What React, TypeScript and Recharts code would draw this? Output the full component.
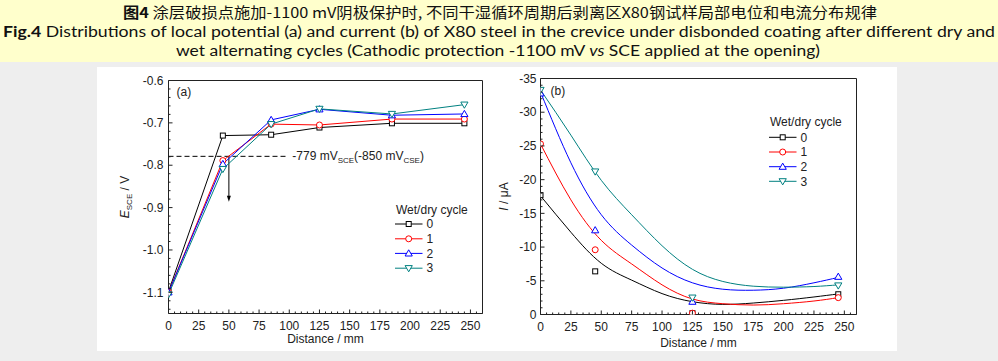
import React from 'react';
import {
  ComposedChart, Line, Scatter, XAxis, YAxis, ReferenceArea, ReferenceLine, ReferenceDot, Legend,
} from 'recharts';

const FONT = '"Liberation Sans", Arial, Helvetica, sans-serif';
const TXT = '#222';
const AXIS = '#222';

// ---------- shared series meta ----------
const cycleNames = ['0', '1', '2', '3'];
const cycleColors = ['#000000', '#ff0000', '#0000ff', '#008080'];
const cycleShapes = ['square', 'circle', 'up', 'down'];

// ---------- panel (a): local potential ----------
const distanceA = [0, 45, 85, 125, 185, 245];
const potentialCycle0 = [-1.098, -0.730, -0.728, -0.711, -0.701, -0.701];
const potentialCycle1 = [-1.100, -0.789, -0.703, -0.705, -0.691, -0.691];
const potentialCycle2 = [-1.100, -0.797, -0.693, -0.668, -0.682, -0.679];
const potentialCycle3 = [-1.105, -0.809, -0.703, -0.667, -0.679, -0.657];
const protectionLevel = -0.779;
const arrowX = 50;
const arrowEnd = -0.886;

// ---------- panel (b): local current ----------
const distanceFit = [0, 25, 50, 75, 100, 125, 150, 175, 200, 225, 245];
const currentFit0 = [-17.6, -12.2, -7.6, -5.1, -3.1, -1.9, -1.5, -1.7, -2.1, -2.6, -3.05];
const currentFit1 = [-25.3, -17.0, -11.0, -7.5, -4.4, -2.3, -1.6, -1.4, -1.6, -2.0, -2.5];
const currentFit2 = [-33.0, -22.5, -14.8, -10.3, -6.9, -4.7, -3.75, -3.6, -3.9, -4.7, -5.5];
const currentFit3 = [-33.3, -26.6, -19.9, -14.8, -10.2, -6.7, -4.9, -4.2, -4.05, -4.15, -4.4];
const distanceMeasured = [0, 45, 125, 245];
const currentMeasured0 = [-17.7, -6.4, -0.2, -3.0];
const currentMeasured1 = [-25.3, -9.6, -0.2, -2.5];
const currentMeasured2 = [-32.8, -12.5, -1.9, -5.6];
const currentMeasured3 = [-33.3, -21.2, -2.5, -4.3];
const fitSeries = [currentFit0, currentFit1, currentFit2, currentFit3];
const measuredSeries = [currentMeasured0, currentMeasured1, currentMeasured2, currentMeasured3];

// ---------- ticks ----------
const xDomain: [number, number] = [0, 260];
const xTicks = Array.from({ length: 53 }, (_, i) => i * 5);
const yDomainA: [number, number] = [-1.15, -0.6];
const yTicksA = Array.from({ length: 28 }, (_, i) => Math.round((-1.14 + i * 0.02) * 100) / 100);
const yDomainB: [number, number] = [-35, 0];
const yTicksB = Array.from({ length: 36 }, (_, i) => -35 + i);

const dataA = distanceA.map((d, i) => ({
  d, c0: potentialCycle0[i], c1: potentialCycle1[i], c2: potentialCycle2[i], c3: potentialCycle3[i],
}));
const fitData = fitSeries.map((s) => distanceFit.map((d, i) => ({ d, v: s[i] })));
const measuredData = measuredSeries.map((s) => distanceMeasured.map((d, i) => ({ d, v: s[i] })));

function marker(shape: string, cx: number, cy: number, color: string, key?: any) {
  const common = { fill: '#fff', stroke: color, strokeWidth: 1 };
  switch (shape) {
    case 'square':
      return <rect key={key} x={cx - 2.5} y={cy - 2.5} width={5} height={5} {...common} />;
    case 'circle':
      return <circle key={key} cx={cx} cy={cy} r={3} {...common} />;
    case 'up':
      return <path key={key} d={`M${cx},${cy - 3.6}L${cx + 3.6},${cy + 2.6}L${cx - 3.6},${cy + 2.6}Z`} {...common} />;
    default:
      return <path key={key} d={`M${cx},${cy + 3.6}L${cx + 3.6},${cy - 2.6}L${cx - 3.6},${cy - 2.6}Z`} {...common} />;
  }
}

const makeXTick = (labelDy: number) => (props: any) => {
  const { x, y, payload } = props;
  const v = payload.value;
  const major = v % 25 === 0;
  return (
    <g>
      <line x1={x} x2={x} y1={y} y2={y - (major ? 4 : 2)} stroke={AXIS} strokeWidth={1} />
      {major && v <= 250 && (
        <text x={x} y={y + labelDy} textAnchor="middle" fontSize={12} fontFamily={FONT} fill={TXT}>{v}</text>
      )}
    </g>
  );
};

const makeYTick = (isMajor: (v: number) => boolean, fmt: (v: number) => string, gap: number) => (props: any) => {
  const { x, y, payload } = props;
  const v = payload.value;
  const major = isMajor(v);
  return (
    <g>
      <line x1={x} x2={x + (major ? 4 : 2)} y1={y} y2={y} stroke={AXIS} strokeWidth={1} />
      {major && (
        <text x={x - gap} y={y + 4.2} textAnchor="end" fontSize={12} fontFamily={FONT} fill={TXT}>{fmt(v)}</text>
      )}
    </g>
  );
};

const LegendBox = ({ rows }: { rows: number[] }) => (
  <svg width={100} height={80} style={{ display: 'block', overflow: 'visible' }}>
    <text x={1} y={rows[0] + 4.2} fontSize={12} fontFamily={FONT} fill={TXT}>Wet/dry cycle</text>
    {cycleNames.map((n, i) => (
      <g key={n}>
        <line x1={0} x2={27.5} y1={rows[i + 1]} y2={rows[i + 1]} stroke={cycleColors[i]} strokeWidth={1} />
        {marker(cycleShapes[i], 13.7, rows[i + 1], cycleColors[i])}
        <text x={31.5} y={rows[i + 1] + 4.2} fontSize={12} fontFamily={FONT} fill={TXT}>{n}</text>
      </g>
    ))}
  </svg>
);

const YLabelA = (props: any) => {
  const vb = props.viewBox;
  const cx = vb.x + vb.width - 43.5;
  const cy = vb.y + vb.height / 2;
  return (
    <text transform={`translate(${cx},${cy}) rotate(-90)`} textAnchor="middle" y={4.2} fontSize={12} fontFamily={FONT} fill={TXT}>
      <tspan fontStyle="italic">E</tspan>
      <tspan fontSize={8} dy={3}>SCE</tspan>
      <tspan dy={-3}> / V</tspan>
    </text>
  );
};

const YLabelB = (props: any) => {
  const vb = props.viewBox;
  const cx = vb.x + vb.width - 37;
  const cy = vb.y + vb.height / 2;
  return (
    <text transform={`translate(${cx},${cy}) rotate(-90)`} textAnchor="middle" y={4.2} fontSize={12} fontFamily={FONT} fill={TXT}>
      <tspan fontStyle="italic">I</tspan>
      <tspan> / μA</tspan>
    </text>
  );
};

const makeXLabel = (dy: number) => (props: any) => {
  const vb = props.viewBox;
  return (
    <text x={vb.x + vb.width / 2} y={vb.y + dy} textAnchor="middle" fontSize={12} fontFamily={FONT} fill={TXT}>
      Distance / mm
    </text>
  );
};

const ChartA = () => (
  <ComposedChart width={400} height={284} data={dataA} margin={{ top: 13.5, right: 14.5, bottom: 7.5, left: 11.5 }}>
    <XAxis dataKey="d" type="number" domain={xDomain} ticks={xTicks} interval={0} allowDataOverflow
      tickSize={0} tickMargin={0} axisLine={false} tickLine={false} height={30} tick={makeXTick(16)}
      label={{ content: makeXLabel(29) }} />
    <YAxis type="number" domain={yDomainA} ticks={yTicksA} interval={0} allowDataOverflow width={60}
      tickSize={0} tickMargin={0} axisLine={false} tickLine={false}
      tick={makeYTick((v) => Math.round(v * 100) % 10 === 0, (v) => v.toFixed(1), 5)}
      label={{ content: YLabelA }} />
    <ReferenceArea x1={0} x2={260} y1={-1.15} y2={-0.6} fill="none" stroke={AXIS} strokeWidth={1}
      label={{ content: (p: any) => (
        <text x={p.viewBox.x + 8} y={p.viewBox.y + 15} fontSize={12} fontFamily={FONT} fill={TXT}>(a)</text>
      ) }} />
    <ReferenceLine segment={[{ x: 0, y: protectionLevel }, { x: 97, y: protectionLevel }]} stroke="#000" strokeDasharray="5 3" />
    <ReferenceLine segment={[{ x: arrowX, y: protectionLevel }, { x: arrowX, y: arrowEnd + 0.01 }]} stroke="#000" />
    <ReferenceDot x={arrowX} y={arrowEnd} shape={(p: any) => (
      <path d={`M${p.cx},${p.cy}L${p.cx - 2},${p.cy - 6}L${p.cx + 2},${p.cy - 6}Z`} fill="#000" />
    )} />
    <ReferenceDot x={102.5} y={protectionLevel} shape={(p: any) => (
      <text x={p.cx} y={p.cy + 4} fontSize={12} fontFamily={FONT} fill={TXT}>
        <tspan>-779 mV</tspan>
        <tspan fontSize={8} dy={3}>SCE</tspan>
        <tspan dy={-3}>(-850 mV</tspan>
        <tspan fontSize={8} dy={3}>CSE</tspan>
        <tspan dy={-3}>)</tspan>
      </text>
    )} />
    {cycleNames.map((n, i) => (
      <Line key={n} dataKey={`c${i}`} type="linear" stroke={cycleColors[i]} strokeWidth={1}
        isAnimationActive={false} legendType="none"
        dot={(p: any) => marker(cycleShapes[i], p.cx, p.cy, cycleColors[i], `a${i}-${p.index}`)} />
    ))}
    <Legend layout="horizontal" verticalAlign="middle" align="center"
      wrapperStyle={{ left: 298, top: 133, width: 100, height: 80 }}
      content={() => <LegendBox rows={[9.3, 24, 38.8, 53.4, 68.2]} />} />
  </ComposedChart>
);

const ChartB = () => (
  <ComposedChart width={400} height={284} margin={{ top: 11.5, right: 40.5, bottom: 6.5, left: 3.5 }}>
    <XAxis dataKey="d" type="number" domain={xDomain} ticks={xTicks} interval={0} allowDataOverflow
      tickSize={0} tickMargin={0} axisLine={false} tickLine={false} height={30} tick={makeXTick(16)}
      label={{ content: makeXLabel(32) }} />
    <YAxis type="number" domain={yDomainB} ticks={yTicksB} interval={0} allowDataOverflow reversed width={40}
      tickSize={0} tickMargin={0} axisLine={false} tickLine={false}
      tick={makeYTick((v) => v % 5 === 0, (v) => (v === 0 ? '0' : String(v)), 4)}
      label={{ content: YLabelB }} />
    <ReferenceArea x1={0} x2={260} y1={-35} y2={0} fill="none" stroke={AXIS} strokeWidth={1}
      label={{ content: (p: any) => (
        <text x={p.viewBox.x + 10} y={p.viewBox.y + 16} fontSize={12} fontFamily={FONT} fill={TXT}>(b)</text>
      ) }} />
    {cycleNames.map((n, i) => (
      <Line key={`f${n}`} data={fitData[i]} dataKey="v" type="natural" stroke={cycleColors[i]} strokeWidth={1}
        dot={false} isAnimationActive={false} legendType="none" />
    ))}
    {cycleNames.map((n, i) => (
      <Scatter key={`s${n}`} data={measuredData[i]} dataKey="v" isAnimationActive={false} legendType="none"
        shape={(p: any) => marker(cycleShapes[i], p.cx, p.cy, cycleColors[i])} />
    ))}
    <Legend layout="horizontal" verticalAlign="middle" align="center"
      wrapperStyle={{ left: 272, top: 45, width: 100, height: 80 }}
      content={() => <LegendBox rows={[9.3, 25.3, 40, 54.7, 69.3]} />} />
  </ComposedChart>
);

const TITLE_LATIN = 'Lato, "Open Sans", sans-serif';

export default function App() {
  return (
    <div style={{ position: 'absolute', left: 0, top: 0, width: 998, height: 361, background: '#eeeeee', overflow: 'hidden' }}>
      <svg width={998} height={62} style={{ position: 'absolute', left: 0, top: 0 }}>
        <rect x={0} y={0} width={998} height={62} fill="#ffffcc" />
        <text x={123} y={17.5} textLength={754} lengthAdjust="spacingAndGlyphs" fontSize={14.5}
          fontFamily='"Noto Sans CJK SC", "Noto Sans", sans-serif' fill="#111">
          <tspan fontWeight="bold">图4</tspan> 涂层破损点施加-1100 mV阴极保护时, 不同干湿循环周期后剥离区X80钢试样局部电位和电流分布规律
        </text>
        <text x={3} y={37} textLength={992} lengthAdjust="spacingAndGlyphs" fontSize={15.5}
          fontFamily={TITLE_LATIN} fill="#111">
          <tspan fontWeight="bold">Fig.4</tspan> Distributions of local potential (a) and current (b) of X80 steel in the crevice under disbonded coating after different dry and
        </text>
        <text x={176} y={56} textLength={644} lengthAdjust="spacingAndGlyphs" fontSize={15.5}
          fontFamily={TITLE_LATIN} fill="#111">
          wet alternating cycles (Cathodic protection -1100 mV <tspan fontStyle="italic">vs</tspan> SCE applied at the opening)
        </text>
      </svg>
      <div style={{ position: 'absolute', left: 97, top: 67, width: 800, height: 284, background: '#fff' }} />
      <div style={{ position: 'absolute', left: 97, top: 67, width: 400, height: 284 }}>
        <ChartA />
      </div>
      <div style={{ position: 'absolute', left: 497, top: 67, width: 400, height: 284 }}>
        <ChartB />
      </div>
    </div>
  );
}
